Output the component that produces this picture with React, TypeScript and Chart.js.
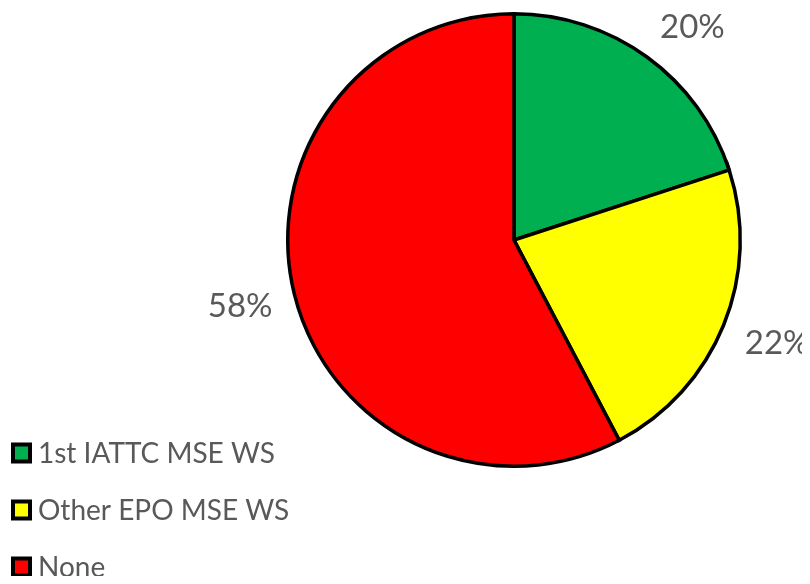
import React, { useEffect, useRef } from "react";
import { Chart, registerables } from "chart.js";

Chart.register(...registerables);

const categories = ["1st IATTC MSE WS", "Other EPO MSE WS", "None"];
const shares = [20, 22.3, 57.7];
const sliceColors = ["#00B050", "#FFFF00", "#FF0000"];
const pctLabels = ["20%", "22%", "58%"];

const TEXT_COLOR = "#595959";
const FONT_FAMILY = "Lato, 'Open Sans', sans-serif";

const clamp = (v: number) => Math.max(-1, Math.min(1, v));

const labelPlugin = {
  id: "outsideLabels",
  afterDatasetsDraw(chart: any) {
    const ctx = chart.ctx;
    const meta = chart.getDatasetMeta(0);
    ctx.save();
    ctx.font = `33px ${FONT_FAMILY}`;
    ctx.fillStyle = TEXT_COLOR;
    ctx.textAlign = "left";
    ctx.textBaseline = "alphabetic";
    meta.data.forEach((arc: any, i: number) => {
      const mid = (arc.startAngle + arc.endAngle) / 2;
      const R = arc.outerRadius + 24;
      const c = Math.cos(mid);
      const s = Math.sin(mid);
      const px = arc.x + c * R;
      const py = arc.y + s * R;
      const text = pctLabels[i];
      const m = ctx.measureText(text);
      const w = m.actualBoundingBoxLeft + m.actualBoundingBoxRight;
      const asc = m.actualBoundingBoxAscent;
      const cx = px + clamp(c * 1.8) * (w / 2);
      const cy = py + clamp(s * 1.8) * (asc / 2);
      ctx.fillText(text, cx - w / 2 + m.actualBoundingBoxLeft, cy + asc / 2);
    });
    ctx.restore();
  },
};

const legendPlugin = {
  id: "customLegend",
  afterDraw(chart: any) {
    const ctx = chart.ctx;
    ctx.save();
    const boxX = 3;
    const boxSize = 21;
    const firstCenter = 445;
    const step = 57;
    ctx.font = `28px ${FONT_FAMILY}`;
    ctx.textBaseline = "middle";
    ctx.textAlign = "left";
    chart.data.labels.forEach((lab: string, i: number) => {
      const cy = firstCenter + i * step;
      ctx.fillStyle = "#000000";
      ctx.fillRect(boxX, cy - boxSize / 2, boxSize, boxSize);
      ctx.fillStyle = chart.data.datasets[0].backgroundColor[i];
      ctx.fillRect(boxX + 4, cy - boxSize / 2 + 4, boxSize - 8, boxSize - 8);
      ctx.fillStyle = TEXT_COLOR;
      ctx.fillText(lab, 30, cy + 1);
    });
    ctx.restore();
  },
};

export default function App() {
  const ref = useRef<HTMLCanvasElement>(null);
  useEffect(() => {
    if (!ref.current) return;
    const chart = new Chart(ref.current, {
      type: "pie",
      data: {
        labels: categories,
        datasets: [
          {
            data: shares,
            backgroundColor: sliceColors,
            borderColor: "#000000",
            borderWidth: 3.5,
            borderJoinStyle: "miter",
          } as any,
        ],
      },
      options: {
        animation: false,
        responsive: false,
        events: [],
        layout: { padding: { left: 278, right: 60, top: 4, bottom: 108 } },
        plugins: {
          legend: { display: false },
          tooltip: { enabled: false },
        },
      },
      plugins: [labelPlugin, legendPlugin],
    });
    return () => chart.destroy();
  }, []);
  return (
    <div style={{ width: 794, height: 568 }}>
      <canvas ref={ref} width={794} height={568} style={{ display: "block" }} />
    </div>
  );
}
